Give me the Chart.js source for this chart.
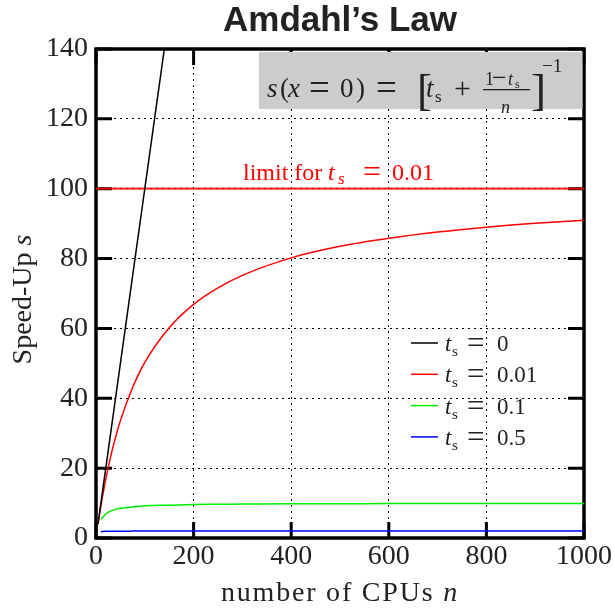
<!DOCTYPE html>
<html>
<head>
  <title>Amdahl's Law</title>
  <script src="https://cdn.jsdelivr.net/npm/chart.js"></script>
  <style>
    body { margin: 0; background: #fff; }
    #wrap { width: 615px; height: 610px; }
  </style>
</head>
<body>
  <div id="wrap"><canvas id="amdahl" width="615" height="610"></canvas></div>

  <script>
    // values (speed-up s against number of CPUs n)
    const cpusTs0 = [4, 50, 100, 150];
    const speedTs0 = [4, 50, 100, 150];
    const cpusTs001 = [4, 10, 20, 30, 40, 50, 75, 100, 150, 200, 250, 300, 400, 500, 600, 700, 800, 900, 1000];
    const speedTs001 = [3.9, 9.2, 16.8, 23.3, 28.8, 33.6, 43.1, 50.3, 60.2, 66.9, 71.6, 75.2, 80.2, 83.5, 85.8, 87.6, 89.0, 90.1, 91.0];
    const cpus = [10, 20, 30, 40, 50, 75, 100, 150, 200, 250, 300, 400, 500, 600, 700, 800, 900, 1000];
    const speedTs01 = [5.3, 6.9, 7.7, 8.2, 8.5, 8.9, 9.2, 9.4, 9.6, 9.65, 9.7, 9.8, 9.82, 9.85, 9.87, 9.89, 9.9, 9.91];
    const speedTs05 = [1.82, 1.9, 1.94, 1.95, 1.96, 1.97, 1.98, 1.99, 1.99, 1.99, 1.99, 2.0, 2.0, 2.0, 2.0, 2.0, 2.0, 2.0];
    const limitCpus = [0, 1000];
    const limitSpeed = [100, 100];
    const tsValues = ['0', '0.01', '0.1', '0.5'];
    const lineColors = ['#000000', '#ff0000', '#00ee00', '#0000ff'];
    const xTicks = [0, 200, 400, 600, 800, 1000];
    const yTicks = [0, 20, 40, 60, 80, 100, 120, 140];

    const serif = '"Liberation Serif", "Times New Roman", serif';
    const rm = s => `${s}px ${serif}`;
    const it = s => `italic ${s}px ${serif}`;
    const pts = (xs, ys) => xs.map((v, i) => ({ x: v, y: ys[i] }));

    // draws text pieces at offsets from (x0, y0)
    function run(ctx, x0, y0, pieces) {
      pieces.forEach(p => {
        ctx.font = p.f;
        ctx.fillText(p.t, x0 + p.x, y0 + (p.dy || 0));
      });
    }

    const decor = {
      id: 'decor',
      beforeDatasetsDraw(chart) {
        const { ctx, chartArea: a, scales: { x, y } } = chart;
        ctx.save();
        ctx.strokeStyle = '#000';
        ctx.lineWidth = 3;
        ctx.beginPath();
        xTicks.forEach(v => {
          const px = x.getPixelForValue(v);
          ctx.moveTo(px, a.bottom); ctx.lineTo(px, a.bottom - 16);
          ctx.moveTo(px, a.top); ctx.lineTo(px, a.top + 16);
        });
        yTicks.forEach(v => {
          const py = y.getPixelForValue(v);
          ctx.moveTo(a.left, py); ctx.lineTo(a.left + 16, py);
          ctx.moveTo(a.right, py); ctx.lineTo(a.right - 16, py);
        });
        ctx.stroke();
        ctx.lineWidth = 3.5;
        ctx.strokeRect(a.left, a.top, a.right - a.left, a.bottom - a.top);
        ctx.restore();
      },
      afterDatasetsDraw(chart) {
        const { ctx, chartArea: a } = chart;
        ctx.save();
        // formula box
        const bx = a.left + 163;
        ctx.fillStyle = '#cccccc';
        ctx.fillRect(bx, a.top + 3, a.right - 1.5 - bx, 57);
        ctx.fillStyle = '#222';
        ctx.textBaseline = 'alphabetic';
        const by = a.top + 48;
        run(ctx, bx, by, [
          { t: 's', f: it(27), x: 8 },
          { t: '(', f: rm(27), x: 21 },
          { t: 'x', f: it(27), x: 29 },
          { t: '=', f: rm(37), x: 50, dy: 2.5 },
          { t: '0', f: rm(27), x: 81 },
          { t: ')', f: rm(27), x: 97 },
          { t: '=', f: rm(37), x: 117, dy: 2.5 },
          { t: '[', f: rm(45), x: 158, dy: 8 },
          { t: 't', f: it(27), x: 167 },
          { t: 's', f: rm(17), x: 176, dy: 5 },
          { t: '+', f: rm(30), x: 195, dy: 1 },
          { t: '1', f: rm(18), x: 226, dy: -12 },
          { t: '\u2212', f: rm(26), x: 233, dy: -11 },
          { t: 't', f: it(18), x: 249, dy: -12 },
          { t: 's', f: rm(12), x: 256, dy: -9 },
          { t: 'n', f: it(18), x: 242, dy: 16 },
          { t: ']', f: rm(45), x: 272, dy: 8 },
          { t: '\u22121', f: rm(19), x: 283, dy: -25 }
        ]);
        ctx.fillRect(bx + 224, by - 8, 47, 1.3);
        ctx.restore();
      },
      afterDraw(chart) {
        const { ctx, chartArea: a } = chart;
        ctx.save();
        ctx.textBaseline = 'alphabetic';

        // limit label
        ctx.fillStyle = '#ff0000';
        run(ctx, a.left + 147, a.top + 131, [
          { t: 'limit for', f: rm(24), x: 0 },
          { t: 't', f: it(24), x: 85 },
          { t: 's', f: it(17), x: 95, dy: 4 },
          { t: '=', f: rm(32), x: 120, dy: 2 },
          { t: '0.01', f: rm(24), x: 149 }
        ]);

        // legend
        tsValues.forEach((v, i) => {
          const cy = a.top + 294 + i * 31.3;
          ctx.strokeStyle = lineColors[i];
          ctx.lineWidth = 1.5;
          ctx.beginPath();
          ctx.moveTo(a.left + 315, cy); ctx.lineTo(a.left + 342, cy);
          ctx.stroke();
          ctx.fillStyle = '#222';
          run(ctx, a.left + 349, cy + 8, [
            { t: 't', f: it(23), x: 0 },
            { t: 's', f: rm(15), x: 7, dy: 5 },
            { t: '=', f: rm(31), x: 22, dy: 2 },
            { t: v, f: rm(23), x: 52 }
          ]);
        });

        // axis titles
        ctx.fillStyle = '#222';
        ctx.letterSpacing = '1.8px';
        ctx.font = rm(28);
        const xa = 'number of CPUs ';
        const wa = ctx.measureText(xa).width;
        ctx.font = it(28);
        const wn = ctx.measureText('n').width;
        let sx = (a.left + a.right) / 2 - (wa + wn) / 2;
        ctx.font = rm(28); ctx.fillText(xa, sx, 601);
        ctx.font = it(28); ctx.fillText('n', sx + wa, 601);

        ctx.letterSpacing = '0px';
        ctx.translate(31, (a.top + a.bottom) / 2 + 6);
        ctx.rotate(-Math.PI / 2);
        ctx.font = rm(28);
        const ya = 'Speed-Up ';
        const wy = ctx.measureText(ya).width;
        ctx.font = it(28);
        const ws = ctx.measureText('s').width;
        sx = -(wy + ws) / 2;
        ctx.font = rm(28); ctx.fillText(ya, sx, 0);
        ctx.font = it(28); ctx.fillText('s', sx + wy, 0);
        ctx.restore();
      }
    };

    const tickFont = { family: serif, size: 28 };

    new Chart(document.getElementById('amdahl'), {
      type: 'line',
      data: {
        datasets: [
          { label: 't_s = 0', data: pts(cpusTs0, speedTs0), borderColor: lineColors[0], borderWidth: 1.5 },
          { label: 't_s = 0.01', data: pts(cpusTs001, speedTs001), borderColor: lineColors[1], borderWidth: 1.5 },
          { label: 't_s = 0.1', data: pts(cpus, speedTs01), borderColor: lineColors[2], borderWidth: 1.5 },
          { label: 't_s = 0.5', data: pts(cpus, speedTs05), borderColor: lineColors[3], borderWidth: 1.5 },
          { label: 'limit', data: pts(limitCpus, limitSpeed), borderColor: 'rgba(255,0,0,0.8)', borderWidth: 2.2 }
        ]
      },
      options: {
        responsive: false,
        animation: false,
        devicePixelRatio: 1,
        layout: { padding: { left: 0, right: 31, top: 0, bottom: 0 } },
        elements: { point: { radius: 0 }, line: { cubicInterpolationMode: 'monotone' } },
        plugins: {
          legend: { display: false },
          tooltip: { enabled: false },
          title: {
            display: true, fullSize: false, text: 'Amdahl\u2019s Law', color: '#222',
            font: { family: '"Liberation Sans", Arial, sans-serif', size: 35, weight: 'bold' },
            padding: { top: 0, bottom: 7 }
          }
        },
        scales: {
          x: {
            type: 'linear', min: 0, max: 1000,
            afterBuildTicks: s => { s.ticks = xTicks.map(v => ({ value: v })); },
            afterFit: s => { s.height = 72; },
            ticks: { font: tickFont, color: '#222', padding: 2, maxRotation: 0, callback: v => String(v) },
            grid: { color: '#000', lineWidth: 1, drawTicks: false },
            border: { display: false, dash: [2, 4] }
          },
          y: {
            type: 'linear', min: 0, max: 140,
            afterBuildTicks: s => { s.ticks = yTicks.map(v => ({ value: v })); },
            afterFit: s => { s.width = 96; },
            ticks: { font: tickFont, color: '#222', padding: 8, callback: v => String(v) },
            grid: { color: '#000', lineWidth: 1, drawTicks: false },
            border: { display: false, dash: [2, 4] }
          }
        }
      },
      plugins: [decor]
    });
  </script>
</body>
</html>
